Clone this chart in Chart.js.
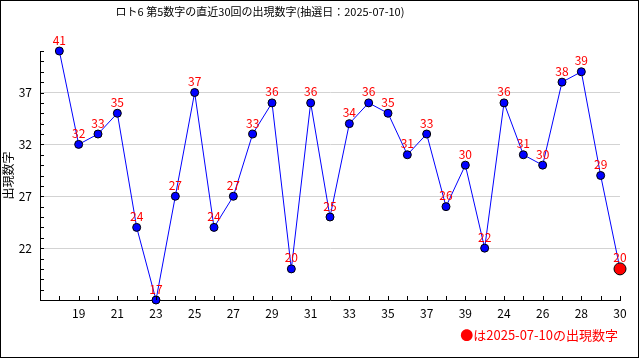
<!DOCTYPE html>
<html>
<head>
<meta charset="utf-8">
<script src="https://cdn.jsdelivr.net/npm/chart.js@4.4.1/dist/chart.umd.min.js"></script>
<style>
	html, body { margin: 0; padding: 0; background: #fff; }
	#wrap { width: 640px; height: 360px; }
</style>
</head>
<body>
<div id="wrap"><canvas id="chart" width="640" height="360"></canvas></div>
<script>
'use strict';

const FONT = '"Noto Sans CJK JP", "DejaVu Sans", sans-serif';

// draw numbers shown under each point (only the even positions get a label)
const xLabels = ['18', '19', '20', '21', '22', '23', '24', '25', '26', '27',
	'28', '29', '30', '31', '32', '33', '34', '35', '36', '37',
	'38', '39', '23', '24', '25', '26', '27', '28', '29', '30'];
// 5th number of the last 30 draws
const values = [41, 32, 33, 35, 24, 17, 27, 37, 24, 27,
	33, 36, 20, 36, 25, 34, 36, 35, 31, 33,
	26, 30, 22, 36, 31, 30, 38, 39, 29, 20];
const yTicks = [22, 27, 32, 37];
const xTicks = [2, 4, 6, 8, 10, 12, 14, 16, 18, 20, 22, 24, 26, 28, 30];

const chartTitle = 'ロト6 第5数字の直近30回の出現数字(抽選日：2025-07-10)';
const footNote = '●は2025-07-10の出現数字';

const points = values.map((v, i) => ({ x: i + 1, y: v }));
const last = values.length - 1;

/**
 * Title, footnote, value labels, inner tick marks and outer frame
 */
const decorPlugin = {
	id: 'decor',
	afterDraw(chart) {
		const ctx = chart.ctx;
		const xs = chart.scales.x;
		const ys = chart.scales.y;
		const area = chart.chartArea;

		ctx.save();
		// inner tick marks
		ctx.strokeStyle = '#000';
		ctx.lineWidth = 1;
		ctx.beginPath();
		for (let v = ys.min; v <= ys.max; v++) {
			const y = Math.round(ys.getPixelForValue(v)) + 0.5;
			ctx.moveTo(area.left, y);
			ctx.lineTo(area.left + 4, y);
		}
		for (let v = 1; v <= xs.max; v++) {
			const x = Math.round(xs.getPixelForValue(v)) + 0.5;
			ctx.moveTo(x, area.bottom);
			ctx.lineTo(x, area.bottom - 4);
		}
		ctx.stroke();

		// value labels
		const meta = chart.getDatasetMeta(0);
		ctx.fillStyle = '#ff0000';
		ctx.font = '12px ' + FONT;
		ctx.textAlign = 'center';
		ctx.textBaseline = 'middle';
		meta.data.forEach((pt, i) => {
			ctx.fillText(String(values[i]), pt.x, pt.y - 11);
		});

		// title
		ctx.fillStyle = '#000';
		ctx.font = '11px ' + FONT;
		ctx.fillText(chartTitle, 260, 12);

		// footnote
		ctx.fillStyle = '#ff0000';
		ctx.font = '13px ' + FONT;
		ctx.textAlign = 'right';
		ctx.fillText(footNote, 618, 335);

		// frame
		ctx.strokeStyle = '#000';
		ctx.strokeRect(0.5, 0.5, 638, 357);
		ctx.restore();
	}
};

new Chart(document.getElementById('chart'), {
	type: 'line',
	data: {
		datasets: [{
			data: points,
			clip: false,
			borderColor: '#0000ff',
			borderWidth: 1,
			tension: 0,
			pointBackgroundColor: values.map((v, i) => i === last ? '#ff0000' : '#0000ff'),
			pointBorderColor: '#000',
			pointBorderWidth: 1,
			pointRadius: values.map((v, i) => i === last ? 6 : 4)
		}]
	},
	options: {
		responsive: false,
		animation: false,
		layout: {
			padding: { top: 51, right: 20, left: 0, bottom: 0 }
		},
		plugins: {
			legend: { display: false },
			title: { display: false },
			tooltip: { enabled: false }
		},
		scales: {
			x: {
				type: 'linear',
				min: 0,
				max: 30,
				afterBuildTicks: (s) => { s.ticks = xTicks.map(v => ({ value: v })); },
				afterFit: (s) => { s.height = 60; },
				grid: { display: false, drawTicks: false },
				border: { display: true, color: '#000', width: 1 },
				ticks: {
					padding: 6,
					color: '#000',
					font: { size: 12, family: FONT },
					maxRotation: 0,
					callback: (v) => xLabels[v - 1]
				}
			},
			y: {
				min: 17,
				max: 41,
				afterBuildTicks: (s) => { s.ticks = yTicks.map(v => ({ value: v })); },
				afterFit: (s) => { s.width = 40; },
				grid: { color: '#d3d3d3', drawTicks: false },
				border: { display: true, color: '#000', width: 1 },
				ticks: {
					padding: 8,
					color: '#000',
					font: { size: 12, family: FONT }
				},
				title: {
					display: true,
					text: '出現数字',
					color: '#000',
					font: { size: 12, family: FONT },
					padding: { top: 1, bottom: 1 }
				}
			}
		}
	},
	plugins: [decorPlugin]
});
</script>
</body>
</html>
